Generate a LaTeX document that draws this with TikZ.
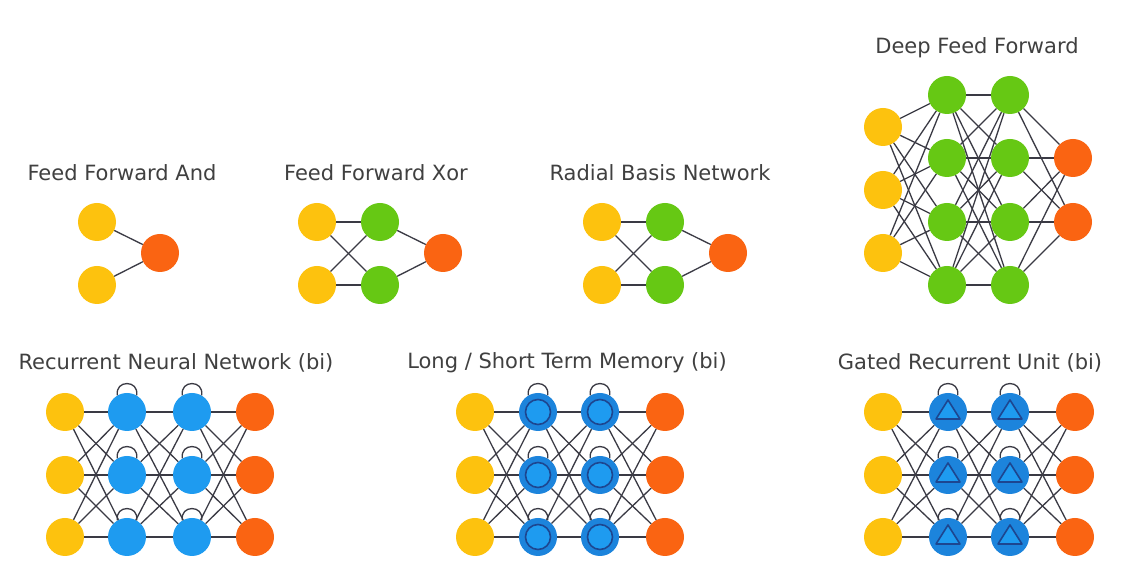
\documentclass[tikz,border=0pt]{standalone}
\usepackage{fontspec}
\setmainfont{DejaVu Sans}
\definecolor{cyel}{HTML}{FDC20E}
\definecolor{cgrn}{HTML}{66C814}
\definecolor{corg}{HTML}{FA6412}
\definecolor{cblu}{HTML}{1E9BF0}
\definecolor{cbludk}{HTML}{1C84DC}
\definecolor{cnavy}{HTML}{1D4690}
\definecolor{cline}{HTML}{3A3A44}
\definecolor{ctxt}{HTML}{404040}
\begin{document}
\begin{tikzpicture}[x=1pt,y=1pt,
  neuron/.style={circle,minimum size=38pt,inner sep=0pt},
  yel/.style={neuron,fill=cyel},
  grn/.style={neuron,fill=cgrn},
  org/.style={neuron,fill=corg},
  blu/.style={neuron,fill=cblu},
  bludk/.style={neuron,fill=cbludk},
  conn/.style={draw=cline,line width=1.3pt},
  inner/.style={draw=cnavy,line width=1.6pt,fill=cblu},
  title/.style={text=ctxt,font=\fontsize{21}{24}\selectfont}]
\useasboundingbox (0,0) rectangle (1128,570);
\fill[white] (0,0) rectangle (1128,570);

% ---------- titles
\node[title] (t1) at (122,397) {Feed Forward And};
\node[title] (t2) at (376,397) {Feed Forward Xor};
\node[title] (t3) at (660,397) {Radial Basis Network};
\node[title] (t4) at (977,522) {Deep Feed Forward};
\node[title] (t5) at (176,207) {Recurrent Neural Network (bi)};
\node[title] (t6) at (567,207) {Long / Short Term Memory (bi)};
\node[title] (t7) at (970,207) {Gated Recurrent Unit (bi)};

% ---------- Feed Forward And
\node[yel] (a1) at (97,348) {};
\node[yel] (a2) at (97,285) {};
\node[org] (a3) at (160,317) {};
\draw[conn] (a1) -- (a3);
\draw[conn] (a2) -- (a3);

% ---------- Feed Forward Xor
\node[yel] (x1) at (317,348) {};
\node[yel] (x2) at (317,285) {};
\node[grn] (x3) at (380,348) {};
\node[grn] (x4) at (380,285) {};
\node[org] (x5) at (443,317) {};
\foreach \i in {1,2}{\foreach \j in {3,4}{\draw[conn] (x\i) -- (x\j);}}
\draw[conn] (x3) -- (x5);
\draw[conn] (x4) -- (x5);

% ---------- Radial Basis Network
\node[yel] (r1) at (602,348) {};
\node[yel] (r2) at (602,285) {};
\node[grn] (r3) at (665,348) {};
\node[grn] (r4) at (665,285) {};
\node[org] (r5) at (728,317) {};
\foreach \i in {1,2}{\foreach \j in {3,4}{\draw[conn] (r\i) -- (r\j);}}
\draw[conn] (r3) -- (r5);
\draw[conn] (r4) -- (r5);

% ---------- Deep Feed Forward
\foreach \y [count=\i] in {443,380,317}{\node[yel] (dy\i) at (883,\y) {};}
\foreach \y [count=\i] in {475,412,348,285}{
  \node[grn] (dg\i) at (947,\y) {};
  \node[grn] (dh\i) at (1010,\y) {};}
\foreach \y [count=\i] in {412,348}{\node[org] (do\i) at (1073,\y) {};}
\foreach \i in {1,2,3}{\foreach \j in {1,...,4}{\draw[conn] (dy\i) -- (dg\j);}}
\foreach \i in {1,...,4}{\foreach \j in {1,...,4}{\draw[conn] (dg\i) -- (dh\j);}}
\foreach \i in {1,...,4}{\foreach \j in {1,2}{\draw[conn] (dh\i) -- (do\j);}}

% ---------- Recurrent Neural Network
\foreach \y [count=\i] in {158,95,33}{
  \node[yel] (ny\i) at (65,\y) {};
  \node[blu] (nb\i) at (127,\y) {};
  \node[blu] (nc\i) at (192,\y) {};
  \node[org] (no\i) at (255,\y) {};}
\foreach \i in {1,2,3}{\foreach \j in {1,2,3}{
  \draw[conn] (ny\i) -- (nb\j);
  \draw[conn] (nb\i) -- (nc\j);
  \draw[conn] (nc\i) -- (no\j);}}
\foreach \i in {1,2,3}{
  \draw[conn] (nb\i.120) .. controls +(100:16pt) and +(80:16pt) .. (nb\i.60);
  \draw[conn] (nc\i.120) .. controls +(100:16pt) and +(80:16pt) .. (nc\i.60);}

% ---------- Long / Short Term Memory
\foreach \y [count=\i] in {158,95,33}{
  \node[yel] (ly\i) at (475,\y) {};
  \node[bludk] (lb\i) at (538,\y) {};
  \node[bludk] (lc\i) at (600,\y) {};
  \node[org] (lo\i) at (665,\y) {};}
\foreach \i in {1,2,3}{\foreach \j in {1,2,3}{
  \draw[conn] (ly\i) -- (lb\j);
  \draw[conn] (lb\i) -- (lc\j);
  \draw[conn] (lc\i) -- (lo\j);}}
\foreach \i in {1,2,3}{
  \draw[inner] (lb\i.center) circle (12.5);
  \draw[inner] (lc\i.center) circle (12.5);
  \draw[conn] (lb\i.120) .. controls +(100:16pt) and +(80:16pt) .. (lb\i.60);
  \draw[conn] (lc\i.120) .. controls +(100:16pt) and +(80:16pt) .. (lc\i.60);}

% ---------- Gated Recurrent Unit
\foreach \y [count=\i] in {158,95,33}{
  \node[yel] (gy\i) at (883,\y) {};
  \node[bludk] (gb\i) at (948,\y) {};
  \node[bludk] (gc\i) at (1010,\y) {};
  \node[org] (go\i) at (1075,\y) {};}
\foreach \i in {1,2,3}{\foreach \j in {1,2,3}{
  \draw[conn] (gy\i) -- (gb\j);
  \draw[conn] (gb\i) -- (gc\j);
  \draw[conn] (gc\i) -- (go\j);}}
\foreach \n in {gb1,gb2,gb3,gc1,gc2,gc3}{
  \draw[inner,line join=round] ([yshift=12pt]\n.center) -- ([xshift=-12pt,yshift=-7pt]\n.center)
     -- ([xshift=12pt,yshift=-7pt]\n.center) -- cycle;
  \draw[conn] (\n.120) .. controls +(100:16pt) and +(80:16pt) .. (\n.60);}
\end{tikzpicture}
\end{document}
